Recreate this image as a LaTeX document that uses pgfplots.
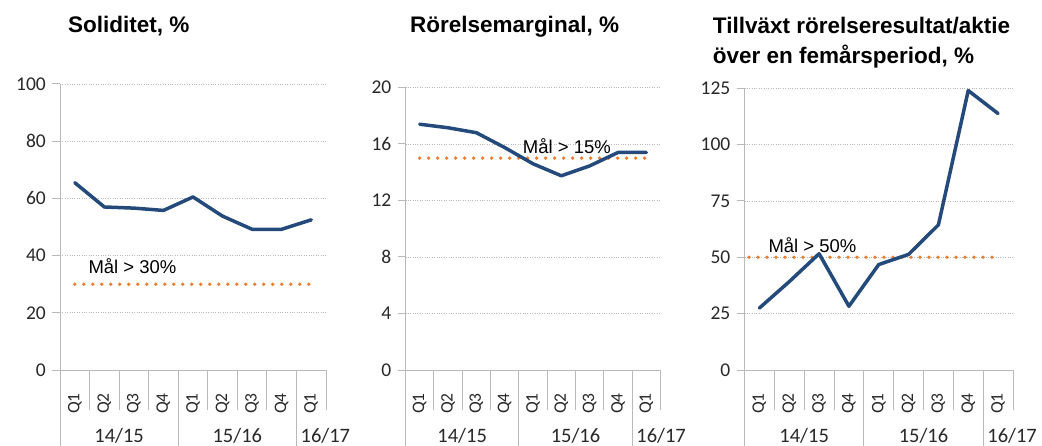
\documentclass[border=0pt]{standalone}
\usepackage{fontspec}
\setmainfont{Liberation Sans}
\newfontfamily\carlito{Carlito}
\usepackage{pgfplots}
\pgfplotsset{compat=1.18}
\definecolor{serie}{RGB}{35,74,122}
\definecolor{mal}{RGB}{237,125,49}
\definecolor{axcol}{RGB}{185,185,185}
\definecolor{gridcol}{RGB}{185,185,185}
\definecolor{txt}{RGB}{40,40,40}

\pgfplotsset{
 panel/.style={
  scale only axis, anchor=south west,
  axis lines=left, axis line style={-, draw=axcol, line width=1bp},
  xmin=-0.5, xmax=8.5, ymin=0,
  xtick={0,...,8}, xticklabels={Q1,Q2,Q3,Q4,Q1,Q2,Q3,Q4,Q1},
  x tick style={draw=none},
  x tick label style={rotate=90, anchor=east, inner sep=0pt, font=\carlito\fontsize{17.5bp}{20bp}\selectfont, text=txt},
  xticklabel shift=15bp,
  ymajorgrids, major grid style={draw=gridcol, dotted, line width=0.8bp},
  y tick style={draw=axcol, line width=1bp},
  tick align=outside, major tick length=8bp,
  y tick label style={anchor=east, font=\carlito\fontsize{19.5bp}{23bp}\selectfont, text=txt, inner sep=0pt},
  /pgf/number format/assume math mode=true,
  yticklabel shift=6bp,
  clip=false,
 },
 ser/.style={serie, line width=3.5bp, line join=round, line cap=round},
 goal/.style={mal, line width=3.8bp, line cap=round, dash pattern=on 0bp off 9bp},
}
\newcommand\seps{%
 \draw[axcol,line width=1bp]
   (axis cs:0.5,0)--++(0bp,-40bp) (axis cs:1.5,0)--++(0bp,-40bp)
   (axis cs:2.5,0)--++(0bp,-40bp) (axis cs:4.5,0)--++(0bp,-40bp)
   (axis cs:5.5,0)--++(0bp,-40bp) (axis cs:6.5,0)--++(0bp,-40bp)
   (axis cs:8.5,0)--++(0bp,-40bp)
   (axis cs:-0.5,0)--++(0bp,-76bp) (axis cs:3.5,0)--++(0bp,-76bp)
   (axis cs:7.5,0)--++(0bp,-76bp);
 \node[font=\carlito\fontsize{20.5bp}{24bp}\selectfont, text=txt, yshift=-66bp] at (axis cs:1.5,0) {14/15};
 \node[font=\carlito\fontsize{20.5bp}{24bp}\selectfont, text=txt, yshift=-66bp] at (axis cs:5.5,0) {15/16};
 \node[font=\carlito\fontsize{20.5bp}{24bp}\selectfont, text=txt, yshift=-66bp, anchor=west, inner sep=0pt, xshift=4bp] at (axis cs:7.5,0) {16/17};
}

\begin{document}
\begin{tikzpicture}
\useasboundingbox (0,0) rectangle (1042bp,446bp);

% Panel 1: Soliditet
\begin{axis}[panel, at={(60bp,76bp)}, width=266bp, height=286bp,
  ymax=100, ytick={0,20,...,100}]
 \addplot[goal] coordinates {(0,30) (8,30)};
 \addplot[ser] coordinates {(0,65.5) (1,57) (2,56.6) (3,55.8) (4,60.5) (5,53.8) (6,49.2) (7,49.2) (8,52.5)};
 \seps
\end{axis}

% Panel 2: Rörelsemarginal
\begin{axis}[panel, at={(405.5bp,76bp)}, width=255bp, height=282.5bp,
  ymax=20, ytick={0,4,...,20}]
 \addplot[goal] coordinates {(0,15) (8,15)};
 \addplot[ser] coordinates {(0,17.4) (1,17.15) (2,16.8) (3,15.75) (4,14.6) (5,13.75) (6,14.45) (7,15.4) (8,15.4)};
 \seps
\end{axis}

% Panel 3: Tillväxt
\begin{axis}[panel, at={(744.5bp,76bp)}, width=268.5bp, height=281.7bp,
  ymax=125, ytick={0,25,...,125}]
 \addplot[goal] coordinates {(-0.35,50) (8,50)};
 \addplot[ser] coordinates {(0,27.5) (1,39.2) (2,51.6) (3,28.3) (4,46.8) (5,51.3) (6,64.4) (7,124) (8,113.8)};
 \seps
\end{axis}

% Titles
\node[anchor=base west, font=\bfseries\fontsize{22.5bp}{27bp}\selectfont, inner sep=0pt] at (68bp,413.7bp) {Soliditet, \%};
\node[anchor=base west, font=\bfseries\fontsize{22.5bp}{27bp}\selectfont, inner sep=0pt] at (410bp,413.7bp) {Rörelsemarginal, \%};
\node[anchor=base west, font=\bfseries\fontsize{22.5bp}{27bp}\selectfont, inner sep=0pt] at (712.7bp,412.7bp) {Tillväxt rörelseresultat/aktie};
\node[anchor=base west, font=\bfseries\fontsize{22.5bp}{27bp}\selectfont, inner sep=0pt] at (712.7bp,382.7bp) {över en femårsperiod, \%};

% Goal labels
\node[anchor=base west, font=\fontsize{18.5bp}{22bp}\selectfont, inner sep=0pt] at (88.3bp,172bp) {Mål > 30\%};
\node[anchor=base west, font=\fontsize{18.5bp}{22bp}\selectfont, inner sep=0pt] at (522.7bp,292.7bp) {Mål > 15\%};
\node[anchor=base west, font=\fontsize{18.5bp}{22bp}\selectfont, inner sep=0pt] at (768.3bp,193.3bp) {Mål > 50\%};
\end{tikzpicture}
\end{document}
